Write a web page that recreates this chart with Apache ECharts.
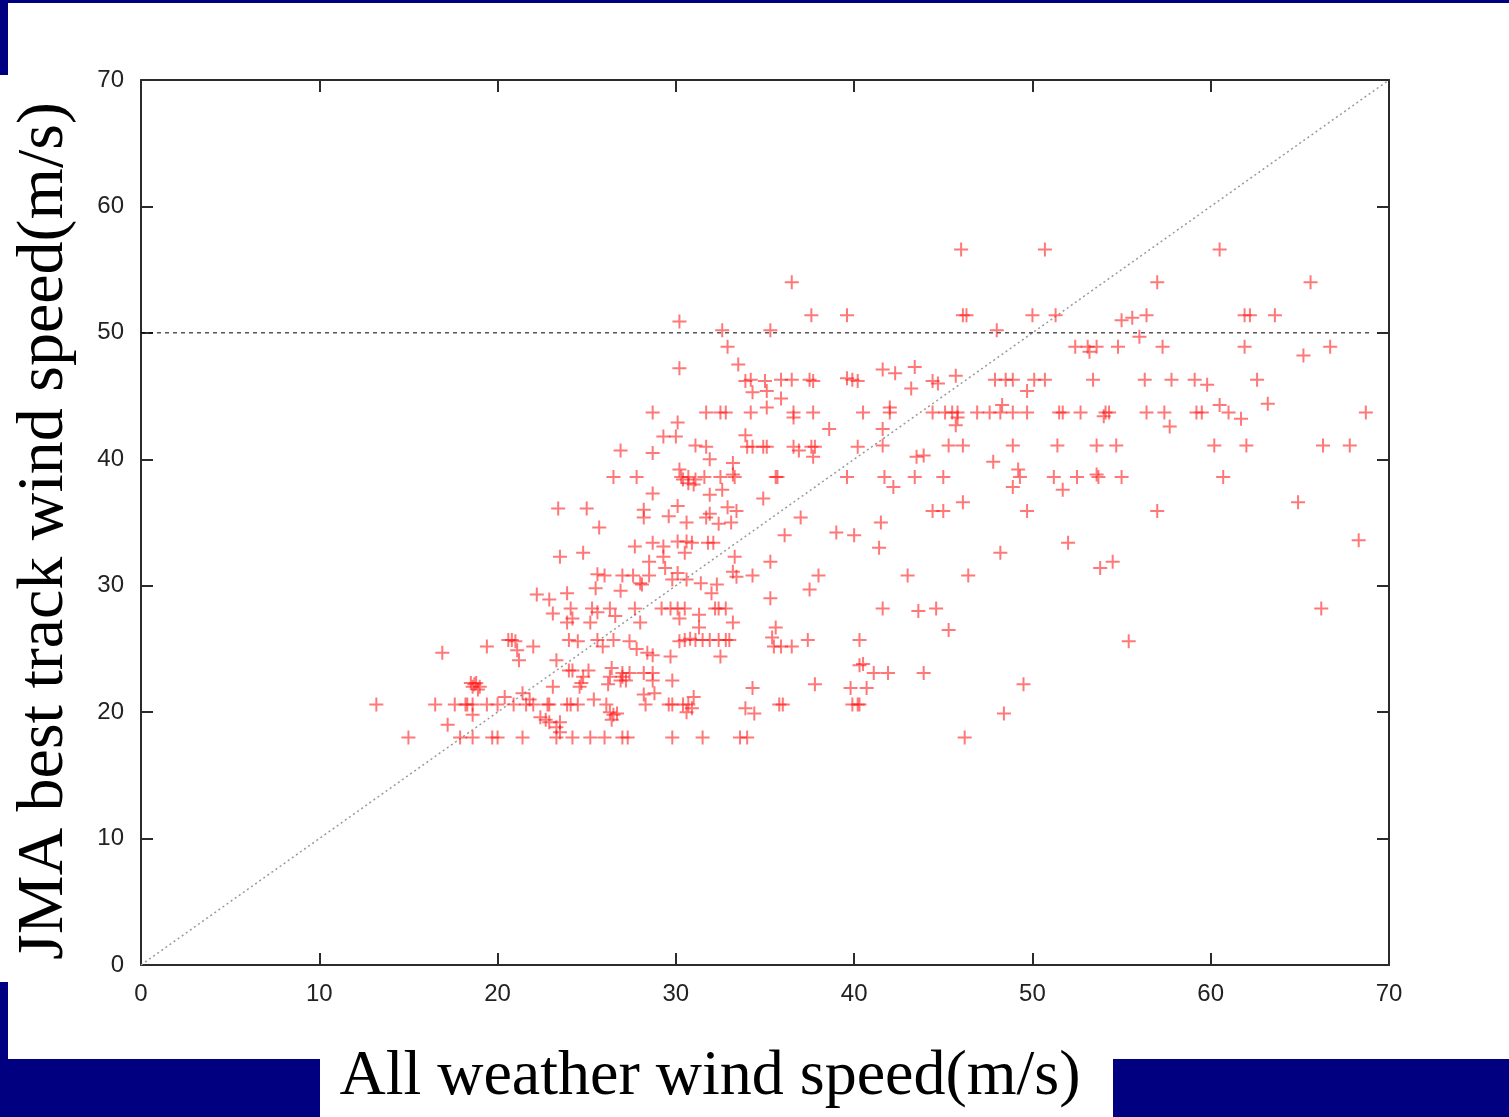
<!DOCTYPE html>
<html>
<head>
<meta charset="utf-8">
<script src="https://cdn.jsdelivr.net/npm/echarts@6/dist/echarts.min.js"></script>
<style>
html,body{margin:0;padding:0;background:#fff;}
#chart{width:1509px;height:1117px;}
</style>
</head>
<body>
<div id="chart"></div>
<script>
// Axis ticks
const xTicks = [0, 10, 20, 30, 40, 50, 60, 70];
const yTicks = [0, 10, 20, 30, 40, 50, 60, 70];
const xTitle = 'All weather wind speed(m/s)';
const yTitle = 'JMA best track wind speed(m/s)';
// Reference lines
const diagonalLine = [[0, 0], [70, 70]];
const thresholdLine = [[0, 50], [69, 50]];
// Scatter: [all weather wind speed, JMA best track wind speed]
const speedPairs = [
[46.0,56.6],[50.7,56.6],[60.5,56.6],
[36.5,54.0],[57.0,54.0],[65.6,54.0],
[37.6,51.4],[39.6,51.4],[46.1,51.4],[46.3,51.4],[50.0,51.4],[51.3,51.4],[55.0,51.0],[55.6,51.2],[56.4,51.4],[61.9,51.4],[62.2,51.4],[63.6,51.4],
[30.2,50.9],[32.6,50.2],[35.3,50.2],[48.0,50.2],[56.0,49.7],
[32.9,48.9],[52.4,48.9],[53.1,48.9],[53.2,48.5],[53.6,48.9],[54.8,48.9],[57.3,48.9],[61.9,48.9],[65.2,48.2],[66.7,48.9],
[30.2,47.2],[33.5,47.5],[41.6,47.1],[42.3,46.8],[43.4,47.3],[45.7,46.6],[43.2,45.6],[44.4,46.2],[44.7,46.0],
[33.9,46.2],[34.2,46.3],[35.0,46.2],[35.9,46.3],[36.5,46.3],[37.5,46.3],[37.7,46.2],[39.6,46.4],[39.9,46.3],[40.2,46.2],[47.9,46.3],[48.5,46.3],[48.9,46.3],[50.1,46.3],[50.7,46.3],[49.7,45.4],[53.4,46.3],[56.3,46.3],[57.8,46.3],[59.1,46.3],[59.8,45.9],[62.6,46.3],
[35.1,45.4],[34.3,45.3],[35.9,44.8],
[28.7,43.7],[31.7,43.7],[32.5,43.7],[32.8,43.7],[34.2,43.7],[35.1,44.1],[36.6,43.7],[36.6,43.3],[37.7,43.7],[40.5,43.7],[42.0,44.1],[42.0,43.7],[44.4,43.7],[45.1,43.7],[45.5,43.7],[45.8,43.7],[45.8,43.3],[45.7,42.7],[46.9,43.7],[47.6,43.7],[48.2,43.7],[48.3,44.3],[48.9,43.7],[49.7,43.7],[51.5,43.7],[51.7,43.7],[52.7,43.7],[54.1,43.7],[54.3,43.7],[54.0,43.4],[56.4,43.7],[57.4,43.7],[57.7,42.6],[59.2,43.7],[59.5,43.7],[60.5,44.3],[61.0,43.7],[61.7,43.2],[63.2,44.4],[68.7,43.7],
[30.1,42.9],[38.6,42.4],[41.6,42.4],[29.3,41.8],[30.0,41.8],[33.9,41.9],
[31.1,41.1],[31.7,41.0],[34.0,41.0],[34.3,41.0],[34.9,41.0],[35.1,41.0],[36.6,41.0],[36.9,40.7],[37.6,41.0],[37.8,41.0],[37.7,40.2],[40.2,41.0],[41.6,41.1],[45.3,41.1],[46.1,41.1],[48.9,41.1],[51.4,41.1],[53.6,41.1],[54.7,41.1],[60.2,41.1],[62.0,41.1],[66.3,41.1],[67.8,41.1],
[26.9,40.7],[28.7,40.5],[31.9,40.0],[33.2,39.7],[43.5,40.2],[43.9,40.3],[47.8,39.8],
[26.5,38.6],[27.8,38.6],[30.2,39.2],[30.3,38.6],[30.7,38.6],[31.1,38.4],[31.6,38.6],[32.5,38.6],[33.2,38.8],[33.3,38.6],[35.6,38.6],[35.7,38.6],[39.6,38.6],[41.7,38.6],[42.2,37.8],[43.4,38.6],[45.0,38.6],[49.2,39.2],[49.3,38.6],[51.2,38.6],[52.5,38.6],[53.7,38.6],[53.6,38.8],[55.0,38.6],[60.7,38.6],[48.9,37.8],[51.7,37.6],
[30.4,38.4],[30.7,38.1],[31.0,38.0],[31.9,37.2],[32.6,37.6],[34.9,36.9],[28.7,37.3],
[30.1,36.3],[28.2,36.0],[28.2,35.4],[29.6,35.5],[30.6,35.0],[31.7,35.4],[31.9,35.7],[32.4,34.9],[32.9,36.2],[33.1,35.0],[33.4,35.9],[37.0,35.4],[39.0,34.2],[40.0,34.0],[36.1,34.0],[41.5,35.0],[46.1,36.6],[44.4,35.9],[45.0,35.9],[49.7,35.9],[57.0,35.9],[64.9,36.6],
[23.4,36.1],[25.0,36.1],[25.7,34.6],[23.5,32.3],[24.8,32.6],
[27.7,33.1],[28.7,33.4],[29.3,33.1],[30.1,33.5],[30.6,33.5],[30.9,33.4],[30.5,32.6],[31.8,33.4],[32.1,33.4],[28.5,31.9],[29.3,32.3],[29.4,31.4],[33.3,32.3],[35.3,31.9],[41.4,33.0],[48.2,32.6],[52.0,33.4],[53.8,31.4],[54.5,31.9],[68.3,33.6],
[25.6,30.9],[26.0,30.8],[27.0,30.8],[27.6,30.8],[28.5,30.8],[30.1,31.0],[30.6,30.5],[31.4,30.2],[33.2,31.1],[33.4,30.7],[34.3,30.8],[38.0,30.8],[28.0,30.2],[29.8,30.5],[43.0,30.8],[46.4,30.8],
[26.9,29.6],[32.3,30.1],[32.0,29.4],[37.5,29.7],[35.3,29.0],[25.5,29.8],[28.1,30.1],
[22.2,29.3],[22.9,28.9],[23.9,29.4],
[23.1,27.8],[24.1,28.2],[24.2,27.4],[23.9,27.1],[25.3,28.2],[25.2,27.1],[25.6,27.9],[26.3,28.2],[26.6,27.6],[27.7,28.2],[28.0,27.1],[29.2,28.2],[29.7,28.2],[30.1,28.2],[30.5,28.2],[30.2,27.4],[31.3,27.7],[32.2,28.2],[32.4,28.2],[32.8,28.2],[33.2,27.1],[41.6,28.2],[43.6,28.0],[44.6,28.2],[66.2,28.2],
[45.3,26.5],[35.6,26.7],[31.3,26.7],
[16.9,24.7],[19.4,25.2],[20.6,25.7],[20.8,25.7],[21.0,25.6],[21.1,24.9],[21.2,24.1],[22.0,25.2],[23.3,24.1],[24.0,25.7],[24.5,25.6],[25.6,25.7],[25.9,25.2],[26.5,25.7],[27.4,25.6],[27.8,25.0],[28.4,24.7],[28.7,24.5],[29.7,24.4],[30.2,25.6],[30.5,25.7],[30.8,25.8],[31.1,25.7],[31.5,25.7],[31.9,25.7],[32.4,25.7],[32.8,25.7],[33.0,25.7],[32.5,24.4],[35.4,25.9],[35.5,25.2],[35.9,25.2],[36.5,25.2],[37.4,25.7],[40.3,25.7],[55.4,25.6],
[24.0,23.3],[24.2,23.3],[24.8,22.8],[25.1,23.3],[24.7,22.3],[24.6,22.0],[26.3,22.8],[26.2,22.2],[26.9,22.5],[27.2,22.5],[27.0,22.8],[26.4,23.5],[27.0,23.1],[27.4,23.1],[28.2,23.1],[28.7,23.1],[28.7,22.5],[29.8,22.5],[28.2,21.4],[28.8,21.5],[31.0,21.2],[40.3,23.7],[40.5,23.8],[41.1,23.1],[41.9,23.1],[43.9,23.1],[49.5,22.2],[34.3,21.9],[37.8,22.2],[39.8,21.9],[40.7,21.9],
[18.5,22.3],[18.7,22.2],[18.8,22.3],[19.0,22.0],[18.9,21.8],[18.6,22.0],
[13.2,20.6],[16.5,20.6],[17.6,20.6],[18.2,20.6],[18.3,20.6],[18.6,20.6],[19.4,20.6],[20.0,20.6],[20.4,21.2],[20.9,20.6],[21.4,21.5],[21.6,20.6],[21.8,21.0],[22.0,20.6],[22.8,20.6],[22.9,20.6],[23.1,22.0],[23.9,20.6],[24.1,20.6],[24.5,20.6],[25.4,21.0],[26.1,20.6],[26.5,19.8],[26.3,20.0],[26.4,19.4],[26.7,19.9],[28.3,20.6],[29.6,20.6],[29.8,20.6],[30.4,20.6],[30.7,20.6],[30.9,20.3],[30.6,20.0],[22.4,19.6],[22.7,19.4],[23.5,19.2],[23.3,18.8],[23.5,18.4],[22.9,19.2],[17.2,19.0],[18.6,19.8],[33.9,20.3],[34.4,19.9],[35.8,20.6],[36.0,20.6],[39.9,20.6],[40.2,20.6],[40.3,20.6],[48.4,19.9],
[15.0,18.0],[17.9,18.0],[18.6,18.0],[19.7,18.0],[20.0,18.0],[21.4,18.0],[23.3,18.0],[24.2,18.0],[25.2,18.0],[26.0,18.0],[27.0,18.0],[27.3,18.0],[29.8,18.0],[31.5,18.0],[33.6,18.0],[34.0,18.0],[46.2,18.0]
];

const NAVY = '#000080';
const AXIS_COLOR = '#2b2b2b';
const labelFont = { color: '#222', fontSize: 24, fontFamily: '"Liberation Sans", Arial, sans-serif' };
const plusPath = 'path://M6,0H8V6H14V8H8V14H6V8H0V6H6Z';

const chart = echarts.init(document.getElementById('chart'), null, { renderer: 'canvas' });

function axisBase(showLabel, pos) {
  return {
    type: 'value', min: 0, max: 70, interval: 10, position: pos,
    axisLine: { show: true, onZero: false, lineStyle: { color: AXIS_COLOR, width: 2 } },
    axisTick: { show: true, inside: true, length: 12, lineStyle: { color: AXIS_COLOR, width: 2 } },
    axisLabel: Object.assign({ show: showLabel, margin: 15 }, labelFont),
    splitLine: { show: false }
  };
}

chart.setOption({
  animation: false,
  backgroundColor: '#fff',
  grid: { left: 141, top: 80, width: 1248, height: 885, containLabel: false },
  xAxis: [
    Object.assign(axisBase(true, 'bottom'), { axisLabel: Object.assign({ show: true, margin: 17, formatter: v => xTicks.includes(v) ? String(v) : '' }, labelFont) }),
    axisBase(false, 'top')
  ],
  yAxis: [
    Object.assign(axisBase(true, 'left'), { axisLabel: Object.assign({ show: true, margin: 17, formatter: v => yTicks.includes(v) ? String(v) : '' }, labelFont) }),
    axisBase(false, 'right')
  ],
  graphic: [
    { type: 'rect', shape: { x: 0, y: 0, width: 1509, height: 3 }, style: { fill: NAVY }, silent: true },
    { type: 'rect', shape: { x: 0, y: 0, width: 8, height: 75 }, style: { fill: NAVY }, silent: true },
    { type: 'rect', shape: { x: 0, y: 982, width: 8, height: 135 }, style: { fill: NAVY }, silent: true },
    { type: 'rect', shape: { x: 0, y: 1059, width: 320, height: 58 }, style: { fill: NAVY }, silent: true },
    { type: 'rect', shape: { x: 1113, y: 1059, width: 396, height: 58 }, style: { fill: NAVY }, silent: true },
    { type: 'text', x: 710, y: 1077, silent: true,
      style: { text: xTitle, textAlign: 'center', textVerticalAlign: 'middle', fill: '#000', font: '64px "Liberation Serif", "Times New Roman", serif' } },
    { type: 'text', x: 45, y: 531, rotation: Math.PI / 2, silent: true,
      style: { text: yTitle, textAlign: 'center', textVerticalAlign: 'middle', fill: '#000', font: '66px "Liberation Serif", "Times New Roman", serif' } }
  ],
  series: [
    {
      type: 'line', data: diagonalLine, symbol: 'none', silent: true, z: 1,
      lineStyle: { color: '#999', width: 1.5, type: [2, 3] }
    },
    {
      type: 'line', data: thresholdLine, symbol: 'none', silent: true, z: 1,
      lineStyle: { color: '#000', width: 1, type: [4, 4] }
    },
    {
      type: 'scatter', data: speedPairs, symbol: plusPath, symbolSize: 14, z: 3,
      itemStyle: { color: 'rgba(255,20,20,0.72)' }
    }
  ]
});
</script>
</body>
</html>
